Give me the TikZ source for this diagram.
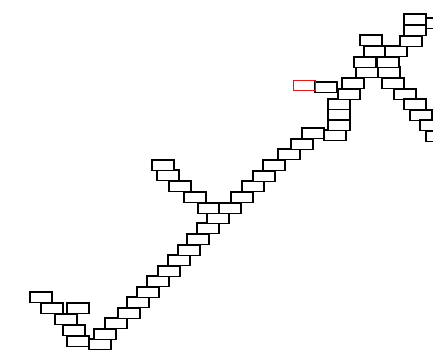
\documentclass[tikz,border=0pt]{standalone}
\usepackage{tikz}
\usepackage{xcolor}
\definecolor{brickred}{RGB}{230,20,20}
\tikzset{
  brick/.style={rectangle, draw=black, line width=1.8pt, fill=white,
                minimum width=22pt, minimum height=10.5pt, inner sep=0pt,
                outer sep=0pt, anchor=north west, xshift=0.9pt, yshift=-0.9pt},
  lastbrick/.style={brick, draw=brickred, line width=0.8pt, fill=none}
}
\begin{document}
\begin{tikzpicture}[x=1pt, y=-1pt]
\clip (0,0) rectangle (433,349);
% main staircase, bottom to top
\foreach \x/\y [count=\i] in {
  88/338, 93/328, 104/317, 117/307, 126/296, 136/286, 146/275,
  157/265, 167/254, 177/244, 186/233, 196/222, 206/212, 197/202,
  218/202, 230/191, 241/180, 252/170, 262/159, 277/148, 290/138,
  301/127, 323/129, 327/119, 327/108, 327/98, 337/88, 314/81,
  341/77, 355/66, 377/66, 353/56, 376/56, 363/45, 384/45,
  359/34, 399/35, 403/24, 403/13, 425/17}
  \node[brick] (s\i) at (\x,\y) {};
% right arm
\foreach \x/\y [count=\i] in {
  381/77, 393/88, 403/98, 409/109, 419/119, 425/130}
  \node[brick] (r\i) at (\x,\y) {};
% upper left arm
\foreach \x/\y [count=\i] in {
  183/191, 168/180, 156/169, 151/159}
  \node[brick] (u\i) at (\x,\y) {};
% bottom left cluster
\foreach \x/\y [count=\i] in {
  29/291, 40/302, 66/302, 54/313, 62/324, 66/335}
  \node[brick] (l\i) at (\x,\y) {};
\node[lastbrick] (new) at (292,79) {};
\end{tikzpicture}
\end{document}
